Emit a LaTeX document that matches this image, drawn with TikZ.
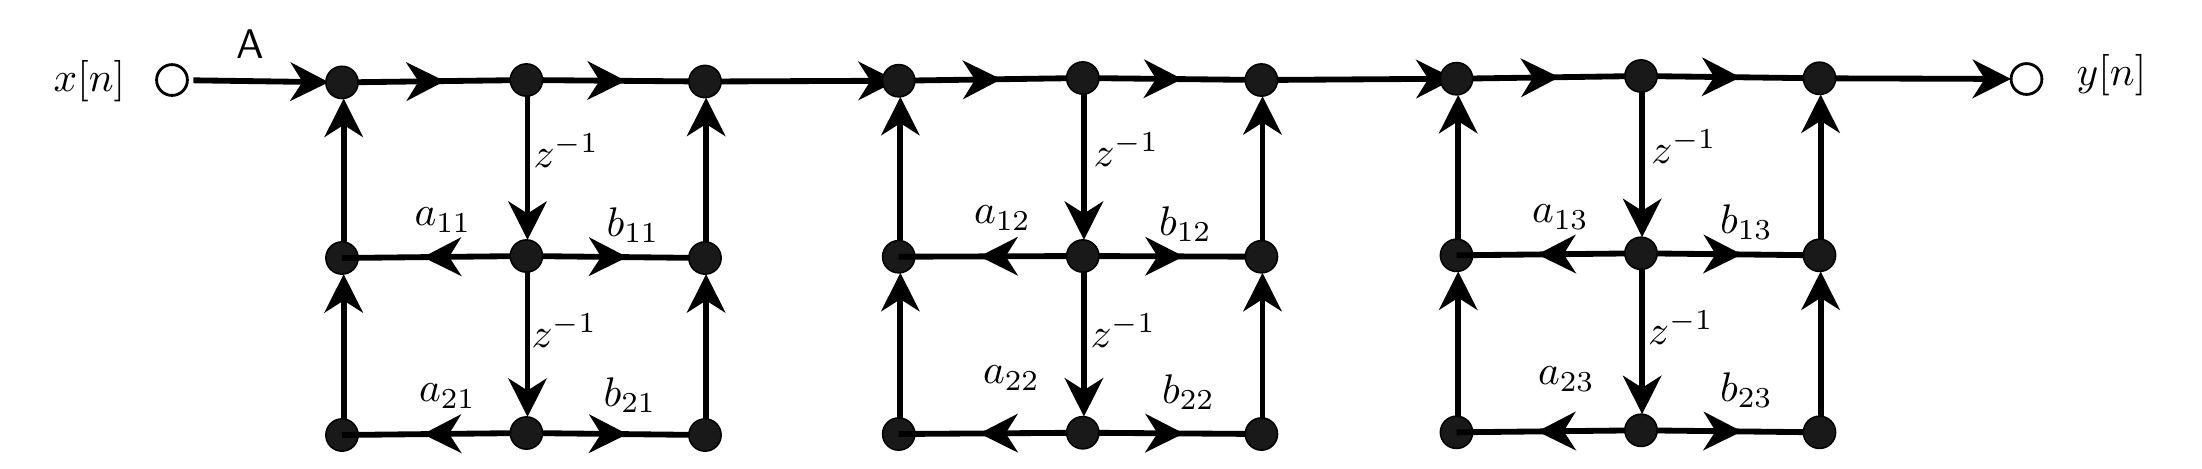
\documentclass[tikz,border=0pt]{standalone}
\usetikzlibrary{arrows.meta,decorations.markings,backgrounds}
\tikzset{
  head/.tip={Stealth[length=10.2pt,width=10.2pt,inset=3.2pt]},
  dot/.style={circle,fill=black!90,draw=black,line width=0.4pt,minimum size=8.6pt,inner sep=0pt,outer sep=0pt},
  port/.style={circle,fill=white,draw=black,line width=0.75pt,minimum size=8.2pt,inner sep=0pt,outer sep=0pt},
  lab/.style={inner sep=0pt,outer sep=0pt,scale=1.1,transform shape,xshift=0.35pt},
  wire/.style={line width=1.55pt,draw=black},
  endhead/.style={wire,-{head}},
  midhead/.style={wire,postaction={decorate,decoration={markings,mark=at position #1 with {\arrow{head}}}}}
}
\begin{document}
\begin{tikzpicture}[x=0.266pt,y=-0.266pt]
\useasboundingbox (0,0) rectangle (2202,468);
% section 1
\node[dot] (l11) at (342,82.4) {};
\node[dot] (m11) at (526.4,80) {};
\node[dot] (r11) at (705,81.5) {};
\node[dot] (l21) at (342,258) {};
\node[dot] (m21) at (526.4,256) {};
\node[dot] (r21) at (705,258) {};
\node[dot] (l31) at (342,435) {};
\node[dot] (m31) at (526.4,433) {};
\node[dot] (r31) at (705,435) {};
% section 2
\node[dot] (l12) at (898.7,80.7) {};
\node[dot] (m12) at (1082.8,78) {};
\node[dot] (r12) at (1261.4,80) {};
\node[dot] (l22) at (898.7,256.7) {};
\node[dot] (m22) at (1082.8,256) {};
\node[dot] (r22) at (1261.4,256.7) {};
\node[dot] (l32) at (898.7,434) {};
\node[dot] (m32) at (1082.8,432.7) {};
\node[dot] (r32) at (1261.4,434) {};
% section 3
\node[dot] (l13) at (1456.5,78.7) {};
\node[dot] (m13) at (1641,76) {};
\node[dot] (r13) at (1819.5,78.3) {};
\node[dot] (l23) at (1456.5,255.3) {};
\node[dot] (m23) at (1641,253.3) {};
\node[dot] (r23) at (1819.5,255.3) {};
\node[dot] (l33) at (1456.5,432.3) {};
\node[dot] (m33) at (1641,430.3) {};
\node[dot] (r33) at (1819.5,432.3) {};
% ports
\node[port] (in) at (172,80) {};
\node[port] (out) at (2026.5,79) {};
% labels
\node[lab] (xn) at (88,81) {$x[n]$};
\node[lab] (yn) at (2110,75) {$y[n]$};
\node[lab] (A) at (249,44) {\sffamily A};
\node[lab] at (565,151) {$z^{-1}$};
\node[lab] at (563,331) {$z^{-1}$};
\node[lab] at (1125,150) {$z^{-1}$};
\node[lab] at (1122,331) {$z^{-1}$};
\node[lab] at (1682.6,147) {$z^{-1}$};
\node[lab] at (1679.5,328) {$z^{-1}$};
\node[lab] at (441.6,220) {$a_{11}$};
\node[lab] at (631.5,225) {$b_{11}$};
\node[lab] at (446,396) {$a_{21}$};
\node[lab] at (628.6,395) {$b_{21}$};
\node[lab] at (1001,218) {$a_{12}$};
\node[lab] at (1184,224) {$b_{12}$};
\node[lab] at (1010,378) {$a_{22}$};
\node[lab] at (1187,392) {$b_{22}$};
\node[lab] at (1559,217) {$a_{13}$};
\node[lab] at (1745,222) {$b_{13}$};
\node[lab] at (1565,379) {$a_{23}$};
\node[lab] at (1745,390) {$b_{23}$};
% connectors that run in under the dots
\begin{pgfonlayer}{background}
  \draw[endhead,shorten <=1.6pt,shorten >=-0.8pt] (in) -- (l11);
  \draw[endhead,shorten >=0.5pt] (r11) -- (l12.center);
  \draw[endhead,shorten >=0.5pt] (r12) -- (l13.center);
\end{pgfonlayer}
\draw[endhead] (r13) -- (out);
% grids
\foreach \s in {1,2,3}{
  \draw[midhead=0.57] (l1\s) -- (m1\s);
  \draw[midhead=0.57] (m1\s) -- (r1\s);
  \draw[midhead=0.58] (m2\s) -- (r2\s);
  \draw[midhead=0.58] (m3\s) -- (r3\s);
  \draw[midhead=0.52] (m2\s) -- (l2\s.center);
  \draw[midhead=0.52] (m3\s) -- (l3\s.center);
  \draw[endhead] ([xshift=0.3pt]m1\s.south) -- ([xshift=0.3pt]m2\s.north);
  \draw[endhead] ([xshift=0.3pt]m2\s.south) -- ([xshift=0.3pt]m3\s.north);
  \draw[endhead] ([xshift=0.45pt]l2\s.north) -- ([xshift=0.45pt]l1\s.south);
  \draw[endhead] ([xshift=0.45pt]l3\s.north) -- ([xshift=0.45pt]l2\s.south);
  \draw[endhead] ([xshift=0.3pt]r2\s.north) -- ([xshift=0.3pt]r1\s.south);
  \draw[endhead] ([xshift=0.3pt]r3\s.north) -- ([xshift=0.3pt]r2\s.south);
}
\end{tikzpicture}
\end{document}
